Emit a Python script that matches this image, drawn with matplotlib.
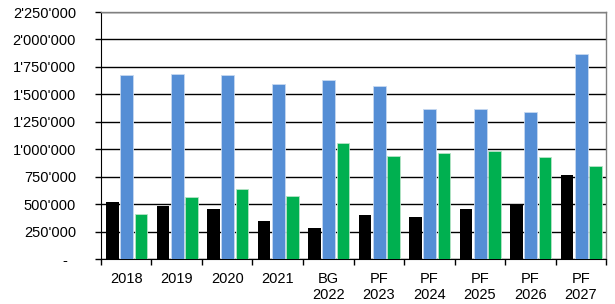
import numpy as np
import matplotlib
matplotlib.use('Agg')
import matplotlib.pyplot as plt
from matplotlib.ticker import FuncFormatter

plt.rcParams['font.family'] = ['Liberation Sans', 'DejaVu Sans']

labels = ['2018', '2019', '2020', '2021', 'BG\n2022', 'PF\n2023', 'PF\n2024', 'PF\n2025', 'PF\n2026', 'PF\n2027']
black_vals = [521000, 488000, 458000, 351000, 282000, 403000, 382000, 460000, 503000, 764000]
blue_vals = [1678000, 1683000, 1674000, 1598000, 1629000, 1577000, 1368000, 1368000, 1340000, 1865000]
green_vals = [412000, 567000, 640000, 576000, 1055000, 940000, 965000, 988000, 934000, 849000]


def fmt(v, pos):
    if v == 0:
        return '-  '
    return f'{int(v):,}'.replace(',', "'")


fig = plt.figure(figsize=(6.15, 3.04), dpi=100)
ax = fig.add_axes([0.1642, 0.147, 0.8212, 0.8135])

x = np.arange(len(labels))
w = 0.25
ax.bar(x - 0.27, black_vals, w, color='#000000', zorder=3)
ax.bar(x + 0.01, blue_vals, w, color='#558ED5', edgecolor='#C6D9F1', linewidth=0.6, zorder=3)
ax.bar(x + 0.295, green_vals, w, color='#00B050', edgecolor='#B7E4C7', linewidth=0.6, zorder=3)

ax.set_xlim(-0.5, len(labels) - 0.5)
ax.set_ylim(0, 2250000)
ax.set_yticks(np.arange(0, 2250001, 250000))
ax.yaxis.set_major_formatter(FuncFormatter(fmt))
ax.yaxis.grid(True, color='#000000', linewidth=1.0, zorder=0)

ax.set_xticks(x)
ax.set_xticklabels(labels, fontsize=10.5)
ax.set_xticks(np.arange(-0.5, len(labels)), minor=True)
ax.tick_params(axis='x', which='major', length=0, pad=9)
ax.tick_params(axis='x', which='minor', length=4, width=1, color='black')
ax.tick_params(axis='y', length=4, width=1, labelsize=10.5, pad=14)

for s in ['top', 'right']:
    ax.spines[s].set_color('#808080')
    ax.spines[s].set_linewidth(1.0)
ax.spines['left'].set_color('black')
ax.spines['bottom'].set_color('black')

fig.savefig('out.png', dpi=100)
